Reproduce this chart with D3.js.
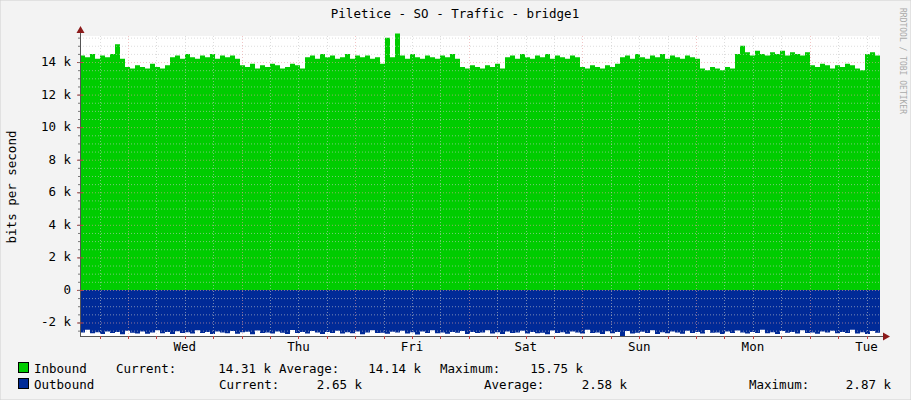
<!DOCTYPE html>
<html><head><meta charset="utf-8">
<script src="https://cdn.jsdelivr.net/npm/d3@7"></script>
<style>body{margin:0;background:#f3f3f3}svg{display:block}text{font-family:"DejaVu Sans Mono",monospace;fill:#000}</style>
</head><body><svg width="911" height="400"></svg>
<script>
const dayLabels = ["Wed","Thu","Fri","Sat","Sun","Mon","Tue"];
const yTicks = [-2000,0,2000,4000,6000,8000,10000,12000,14000];
const yTickLabels = ["-2 k","0","2 k","4 k","6 k","8 k","10 k","12 k","14 k"];
// hours from start (Tue ~13:50); samples every ~1.06h
const inbound = [14.4,14.3,14.5,14.2,14.4,14.3,14.5,15.1,14.2,13.7,13.6,13.8,13.7,13.6,13.9,13.7,13.6,13.8,14.3,14.4,14.2,14.5,14.3,14.2,14.4,14.3,14.5,14.2,14.4,14.3,14.4,14.2,13.8,13.7,13.9,13.6,13.8,13.7,13.9,13.8,13.6,13.7,13.9,13.8,13.6,14.3,14.4,14.2,14.5,14.3,14.4,14.2,14.3,14.5,14.2,14.4,14.3,14.4,14.2,14.3,13.9,15.5,14.3,15.75,14.4,14.2,14.5,14.3,14.2,14.4,14.3,14.2,14.4,14.3,14.5,14.2,13.7,13.6,13.8,13.7,13.6,13.8,13.7,13.9,13.6,14.3,14.4,14.2,14.5,14.3,14.2,14.4,14.3,14.5,14.2,14.4,14.3,14.2,14.4,14.3,13.7,13.6,13.8,13.7,13.6,13.8,13.7,13.9,14.3,14.4,14.2,14.5,14.3,14.2,14.4,14.3,14.5,14.2,14.4,14.3,14.2,14.4,14.3,14.2,13.6,13.5,13.7,13.6,13.5,13.7,13.6,14.5,15.0,14.6,14.4,14.7,14.5,14.4,14.6,14.5,14.7,14.4,14.6,14.5,14.4,14.6,13.8,13.7,13.9,13.8,13.6,13.8,13.7,13.9,13.8,13.6,13.5,14.5,14.6,14.4,14.3];
const outbound = [2.62,2.45,2.66,2.60,2.70,2.55,2.64,2.58,2.72,2.50,2.63,2.67,2.56,2.69,2.61,2.48,2.66,2.59,2.71,2.54,2.64,2.60,2.68,2.47,2.65,2.58,2.70,2.55,2.62,2.66,2.52,2.69,2.60,2.57,2.73,2.49,2.64,2.61,2.68,2.56,2.63,2.70,2.46,2.65,2.59,2.67,2.53,2.62,2.71,2.58,2.64,2.50,2.68,2.60,2.66,2.55,2.72,2.61,2.48,2.65,2.63,2.69,2.57,2.62,2.51,2.67,2.60,2.74,2.56,2.64,2.47,2.66,2.61,2.69,2.58,2.63,2.52,2.70,2.59,2.65,2.62,2.48,2.67,2.60,2.71,2.55,2.64,2.61,2.50,2.68,2.58,2.66,2.63,2.73,2.49,2.65,2.60,2.69,2.56,2.62,2.67,2.45,2.64,2.61,2.70,2.54,2.66,2.59,2.87,2.52,2.68,2.63,2.57,2.65,2.48,2.70,2.60,2.66,2.55,2.62,2.69,2.51,2.64,2.58,2.67,2.46,2.63,2.61,2.70,2.56,2.65,2.49,2.62,2.68,2.58,2.64,2.45,2.66,2.60,2.71,2.53,2.63,2.59,2.67,2.47,2.65,2.61,2.69,2.55,2.62,2.50,2.66,2.58,2.64,2.44,2.67,2.60,2.70,2.52,2.63,2.65];
const legendRows = [
 {name:"Inbound", color:"#00cc00", cur:"14.31 k", avg:"14.14 k", max:"15.75 k"},
 {name:"Outbound", color:"#002a97", cur:"2.65 k", avg:"2.58 k", max:"2.87 k"}
];

const svg = d3.select("svg");
const L=80,R=880,T=36,B=336;
const totalH = 169;
const x = d3.scaleLinear().domain([0,totalH]).range([L,R]);
const y = d3.scaleLinear().domain([-2830,15600]).range([B,T]);
const firstMid = 10.15; // hours until Wed 00:00

svg.append("rect").attr("width",911).attr("height",400).attr("fill","#f3f3f3").attr("stroke","#d0d0d0");
svg.append("rect").attr("x",L).attr("y",T).attr("width",R-L).attr("height",B-T).attr("fill","#fff");

// grid
const g=svg.append("g");
for(let v=-2500; v<=15500; v+=500){
  const major = v%2000===0;
  g.append("line").attr("x1",L).attr("x2",R).attr("y1",y(v)+.5).attr("y2",y(v)+.5)
   .attr("stroke",major?"#e8a0a0":"#c8c8c8").attr("stroke-dasharray","1,2");
}
for(let h=firstMid-24; h<=totalH; h+=6){
  if(h<=0) continue;
  const major = Math.abs(((h-firstMid)%24+24)%24)<0.01;
  g.append("line").attr("x1",Math.round(x(h))+.5).attr("x2",Math.round(x(h))+.5).attr("y1",T).attr("y2",B)
   .attr("stroke",major?"#e8a0a0":"#c8c8c8").attr("stroke-dasharray","1,2");
}

const step = totalH/(inbound.length-1);
const area = d3.area().x((d,i)=>x(i*step)).y0(y(0)).y1(d=>y(d)).curve(d3.curveStepAfter);
svg.append("path").datum(inbound.map(v=>v*1000)).attr("d",area).attr("fill","#00cc00");
svg.append("path").datum(outbound.map(v=>-v*1000)).attr("d",area).attr("fill","#002a97");

// grid over data (rrd draws grid on top)
g.raise();
g.selectAll("line").attr("opacity",0.6);

// axes
svg.append("line").attr("x1",L+.5).attr("x2",L+.5).attr("y1",T-8).attr("y2",B).attr("stroke","#555");
svg.append("line").attr("x1",L).attr("x2",R+6).attr("y1",B+.5).attr("y2",B+.5).attr("stroke","#555");
svg.append("path").attr("d",`M${L-3.5},${T-3}L${L+.5},${T-10}L${L+4.5},${T-3}Z`).attr("fill","#8b1a1a");
svg.append("path").attr("d",`M${R+3},${B-3.5}L${R+10},${B+.5}L${R+3},${B+4.5}Z`).attr("fill","#8b1a1a");
yTicks.forEach(v=>{svg.append("line").attr("x1",L-3).attr("x2",L+3).attr("y1",y(v)+.5).attr("y2",y(v)+.5).attr("stroke","#c04040");});
for(let v=-2500; v<=15500; v+=500){svg.append("line").attr("x1",L-2).attr("x2",L).attr("y1",y(v)+.5).attr("y2",y(v)+.5).attr("stroke","#777");}
for(let h=firstMid-24; h<=totalH; h+=6){ if(h<=0) continue;
  svg.append("line").attr("x1",Math.round(x(h))+.5).attr("x2",Math.round(x(h))+.5).attr("y1",B).attr("y2",B+3).attr("stroke","#c04040");}

svg.selectAll(".yl").data(yTicks).enter().append("text").attr("x",L-9).attr("y",d=>y(d)+4)
 .attr("text-anchor","end").attr("font-size",12.5).text((d,i)=>yTickLabels[i]);
svg.selectAll(".xl").data(dayLabels).enter().append("text").attr("x",(d,i)=>x(firstMid+12+24*i))
 .attr("y",351).attr("text-anchor","middle").attr("font-size",12.5).text(d=>d);

svg.append("text").attr("x",455).attr("y",18).attr("text-anchor","middle").attr("font-size",12.5).text("Piletice - SO - Traffic - bridge1");
svg.append("text").attr("transform","translate(16,187) rotate(-90)").attr("text-anchor","middle").attr("font-size",12.5).text("bits per second");
svg.append("text").attr("transform","translate(900,8) rotate(90)").attr("font-size",8).style("fill","#aaa").text("RRDTOOL / TOBI OETIKER");

// legend
const cols=[[116,271,279,421,440,583],[219,362,484,627,749,891]];
legendRows.forEach((r,i)=>{
  const yy=373+i*16, c=cols[i];
  svg.append("rect").attr("x",18.5).attr("y",yy-10.5).attr("width",10).attr("height",10).attr("fill",r.color).attr("stroke","#000");
  const t=(xx,s,a)=>svg.append("text").attr("x",xx).attr("y",yy).attr("font-size",12.5).attr("text-anchor",a||"start").text(s);
  t(34,r.name); t(c[0],"Current:"); t(c[1],r.cur,"end"); t(c[2],"Average:"); t(c[3],r.avg,"end"); t(c[4],"Maximum:"); t(c[5],r.max,"end");
});
</script></body></html>
